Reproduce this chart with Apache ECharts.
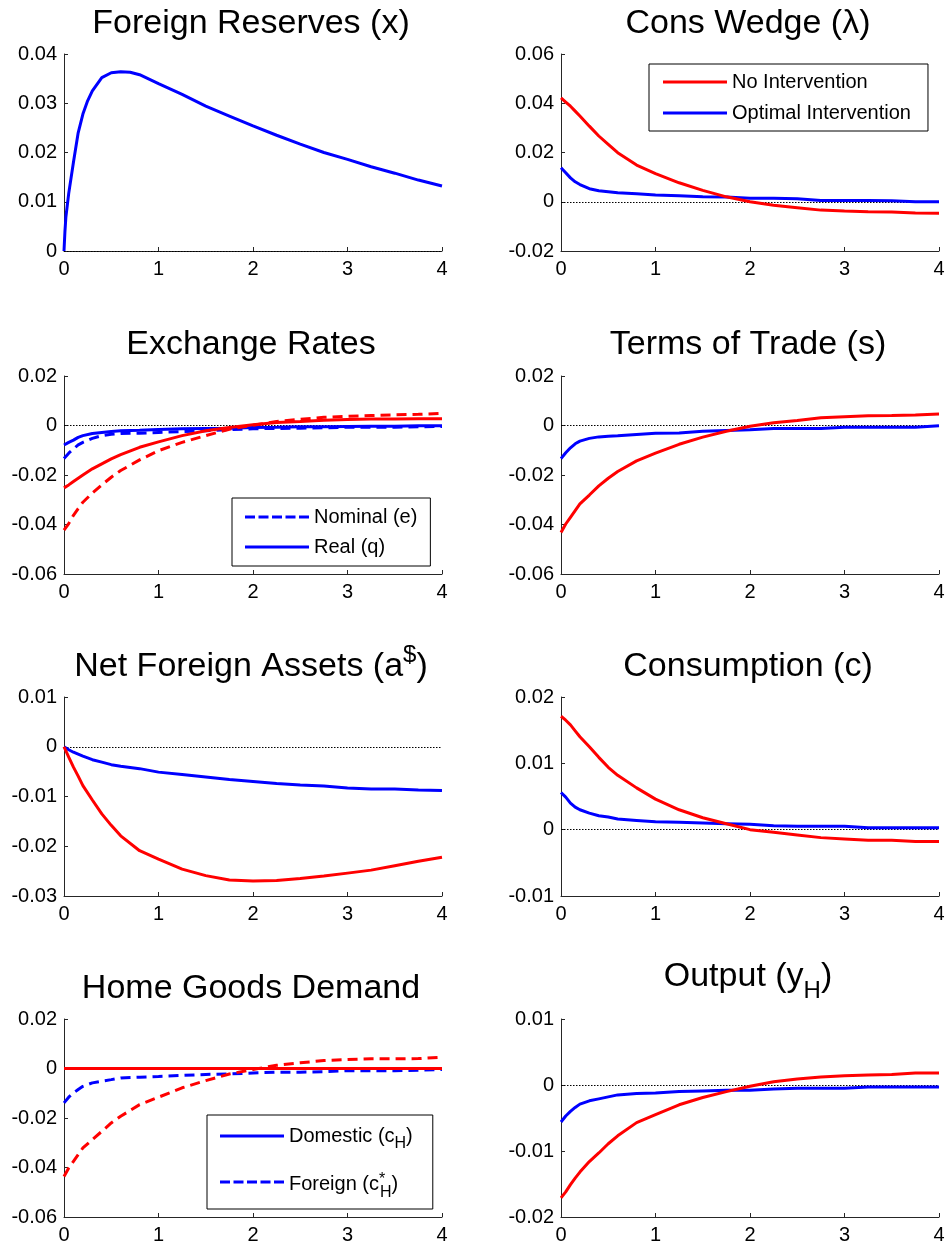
<!DOCTYPE html>
<html>
<head>
<meta charset="utf-8">
<script src="https://cdn.jsdelivr.net/npm/echarts@6.0.0/dist/echarts.min.js"></script>
<style>
html,body{margin:0;padding:0;background:#fff;}
#chart{width:950px;height:1248px;}
</style>
</head>
<body>
<div id="chart"></div>
<script>
// ---------------- DATA ----------------
const timesFR = [0, 0.01, 0.02, 0.05, 0.1, 0.15, 0.2, 0.25, 0.3, 0.4, 0.5, 0.6, 0.7, 0.8, 1.0, 1.25, 1.5, 1.75, 2.0, 2.25, 2.5, 2.75, 3.0, 3.25, 3.5, 3.75, 4.0];
const reserves = [0, 0.004, 0.0069, 0.0117, 0.018, 0.024, 0.0278, 0.0305, 0.0325, 0.0352, 0.0362, 0.0364, 0.0363, 0.0358, 0.034, 0.0318, 0.0294, 0.0274, 0.0254, 0.0235, 0.0217, 0.02, 0.0186, 0.0171, 0.0158, 0.0144, 0.0132];

const times = [0, 0.05, 0.1, 0.15, 0.2, 0.3, 0.4, 0.5, 0.6, 0.8, 1.0, 1.25, 1.5, 1.75, 2.0, 2.25, 2.5, 2.75, 3.0, 3.25, 3.5, 3.75, 4.0];

const consWedgeNo  = [0.0422, 0.0405, 0.0388, 0.0368, 0.0348, 0.0307, 0.0267, 0.0233, 0.0199, 0.0149, 0.0114, 0.0077, 0.0046, 0.002, 0.0, -0.0014, -0.0024, -0.0034, -0.0038, -0.0041, -0.0042, -0.0046, -0.0047];
const consWedgeOpt = [0.0138, 0.0118, 0.0097, 0.0081, 0.007, 0.0053, 0.0045, 0.0041, 0.0037, 0.0032, 0.0027, 0.0024, 0.002, 0.0019, 0.0014, 0.0014, 0.0012, 0.0005, 0.0005, 0.0005, 0.0004, 0.0, 0.0];

const exNomNo   = [-0.0423, -0.0396, -0.0363, -0.0336, -0.031, -0.0273, -0.024, -0.0209, -0.0182, -0.0139, -0.0102, -0.0068, -0.0041, -0.0015, 0.0001, 0.0016, 0.0025, 0.0033, 0.0037, 0.004, 0.0043, 0.0045, 0.0049];
const exRealNo  = [-0.0252, -0.024, -0.0226, -0.0213, -0.02, -0.0175, -0.0155, -0.0135, -0.0118, -0.0088, -0.0066, -0.0041, -0.0021, -0.0008, 0.0003, 0.0012, 0.0016, 0.0021, 0.0024, 0.0026, 0.0026, 0.0027, 0.0027];
const exNomOpt  = [-0.0133, -0.0112, -0.0095, -0.0078, -0.0068, -0.0052, -0.0041, -0.0035, -0.0032, -0.0031, -0.0028, -0.0025, -0.0021, -0.0017, -0.0013, -0.0012, -0.0011, -0.0009, -0.0007, -0.0007, -0.0007, -0.0005, -0.0004];
const exRealOpt = [-0.0079, -0.0068, -0.0059, -0.0048, -0.0041, -0.0032, -0.0028, -0.0024, -0.0021, -0.0019, -0.0016, -0.0013, -0.0012, -0.0011, -0.0008, -0.0007, -0.0005, -0.0005, -0.0004, -0.0003, -0.0003, -0.0001, -0.0001];

const totNo  = [-0.0432, -0.0398, -0.0371, -0.0344, -0.0317, -0.0281, -0.0244, -0.0213, -0.0186, -0.0143, -0.0112, -0.0076, -0.0047, -0.0023, -0.0003, 0.0011, 0.002, 0.0031, 0.0035, 0.0039, 0.004, 0.0042, 0.0046];
const totOpt = [-0.0134, -0.011, -0.009, -0.0074, -0.0063, -0.0052, -0.0046, -0.0043, -0.0041, -0.0036, -0.0031, -0.003, -0.0023, -0.002, -0.0017, -0.0012, -0.0012, -0.0012, -0.0007, -0.0007, -0.0007, -0.0007, -0.0001];

const nfaNo  = [0, -0.0021, -0.0041, -0.0059, -0.0078, -0.0107, -0.0135, -0.0158, -0.0179, -0.0209, -0.0226, -0.0246, -0.0259, -0.0268, -0.027, -0.0269, -0.0265, -0.026, -0.0254, -0.0248, -0.0239, -0.023, -0.0222];
const nfaOpt = [0, -0.0006, -0.0011, -0.0015, -0.0019, -0.0026, -0.0031, -0.0036, -0.0039, -0.0044, -0.0051, -0.0056, -0.0061, -0.0066, -0.007, -0.0074, -0.0077, -0.0079, -0.0083, -0.0085, -0.0085, -0.0087, -0.0088];

const consNo  = [0.0171, 0.0165, 0.0158, 0.0149, 0.014, 0.0125, 0.0109, 0.0094, 0.0082, 0.0063, 0.0046, 0.003, 0.0018, 0.0009, 0, -0.0004, -0.0008, -0.0012, -0.0014, -0.0016, -0.0016, -0.0018, -0.0018];
const consOpt = [0.0056, 0.0049, 0.004, 0.0034, 0.003, 0.0025, 0.0021, 0.0019, 0.0016, 0.0014, 0.0012, 0.0011, 0.001, 0.0009, 0.0008, 0.0006, 0.0005, 0.0005, 0.0005, 0.0003, 0.0003, 0.0003, 0.0003];

const domNo  = [0, 0, 0, 0, 0, 0, 0, 0, 0, 0, 0, 0, 0, 0, 0, 0, 0, 0, 0, 0, 0, 0, 0];
const domOpt = [0, 0, 0, 0, 0, 0, 0, 0, 0, 0, 0, 0, 0, 0, 0, 0, 0, 0, 0, 0, 0, 0, 0];
const forNo  = [-0.0436, -0.0402, -0.0375, -0.0348, -0.0321, -0.0287, -0.0254, -0.022, -0.0193, -0.0146, -0.0116, -0.0078, -0.0049, -0.0022, -0.0004, 0.0013, 0.0023, 0.0032, 0.0036, 0.0039, 0.0039, 0.004, 0.0046];
const forOpt = [-0.0139, -0.0116, -0.0099, -0.0085, -0.0072, -0.0058, -0.0051, -0.0045, -0.0038, -0.0035, -0.0032, -0.0028, -0.0024, -0.0022, -0.0018, -0.0015, -0.0015, -0.0013, -0.0009, -0.0009, -0.0009, -0.0007, -0.0004];

const outNo  = [-0.0171, -0.0162, -0.0151, -0.0141, -0.0132, -0.0116, -0.0103, -0.0089, -0.0077, -0.0057, -0.0045, -0.003, -0.0019, -0.001, -0.0002, 0.0005, 0.0009, 0.0012, 0.0014, 0.0015, 0.0016, 0.0018, 0.0018];
const outOpt = [-0.0056, -0.0047, -0.004, -0.0034, -0.0029, -0.0024, -0.0021, -0.0018, -0.0015, -0.0013, -0.0012, -0.001, -0.0009, -0.0008, -0.0008, -0.0006, -0.0005, -0.0005, -0.0005, -0.0003, -0.0003, -0.0003, -0.0003];

// axis ranges (min, max, interval) per panel
const yMins = [0, -0.02, -0.06, -0.06, -0.03, -0.01, -0.06, -0.02];
const yMaxs = [0.04, 0.06, 0.02, 0.02, 0.01, 0.02, 0.02, 0.01];
const ySteps = [0.01, 0.02, 0.02, 0.02, 0.01, 0.01, 0.02, 0.01];
const xTicks = [0, 1, 2, 3, 4];

const titles = [
  '{m|Foreign Reserves (x)}',
  '{m|Cons Wedge (λ)}',
  '{m|Exchange Rates}',
  '{m|Terms of Trade (s)}',
  '{mp|Net Foreign Assets (a}{sup|$}{mp|)}',
  '{m|Consumption (c)}',
  '{m|Home Goods Demand}',
  '{m|Output (y}{sub|H}{m|)}'
];

// ---------------- BUILD ----------------
const FONT = '"Liberation Sans", Arial, Helvetica, sans-serif';
const RED = '#ff0000', BLUE = '#0000ff';
const pairs = (t, v) => t.map((x, i) => [x, v[i]]);

const panels = [
  [{name: 'Foreign Reserves', t: timesFR, v: reserves, c: BLUE, d: false}],
  [{name: 'Optimal Intervention', t: times, v: consWedgeOpt, c: BLUE, d: false},
   {name: 'No Intervention', t: times, v: consWedgeNo, c: RED, d: false}],
  [{name: 'Nominal (e)', t: times, v: exNomOpt, c: BLUE, d: true},
   {name: 'Real (q)', t: times, v: exRealOpt, c: BLUE, d: false},
   {name: 'Nominal (e) NI', t: times, v: exNomNo, c: RED, d: true},
   {name: 'Real (q) NI', t: times, v: exRealNo, c: RED, d: false}],
  [{name: 'ToT Opt', t: times, v: totOpt, c: BLUE, d: false},
   {name: 'ToT NI', t: times, v: totNo, c: RED, d: false}],
  [{name: 'NFA Opt', t: times, v: nfaOpt, c: BLUE, d: false},
   {name: 'NFA NI', t: times, v: nfaNo, c: RED, d: false}],
  [{name: 'Cons Opt', t: times, v: consOpt, c: BLUE, d: false},
   {name: 'Cons NI', t: times, v: consNo, c: RED, d: false}],
  [{name: 'Domestic', t: times, v: domOpt, c: BLUE, d: false},
   {name: 'Foreign', t: times, v: forOpt, c: BLUE, d: true},
   {name: 'Domestic NI', t: times, v: domNo, c: RED, d: false},
   {name: 'Foreign NI', t: times, v: forNo, c: RED, d: true}],
  [{name: 'Output Opt', t: times, v: outOpt, c: BLUE, d: false},
   {name: 'Output NI', t: times, v: outNo, c: RED, d: false}]
];

const LEFTS = [64, 561], W = 378;
const TOPS = [54, 376, 697, 1019], HS = [197, 198, 199, 198];
const titleTops = [6.5, 6.5, 328, 328, 643.5, 649.5, 971.5, 959.5];

const grid = [], xAxis = [], yAxis = [], series = [], title = [];
const axisCol = '#262626';
for (let i = 0; i < 8; i++) {
  const col = i % 2, row = Math.floor(i / 2);
  grid.push({left: LEFTS[col], top: TOPS[row], width: W, height: HS[row], containLabel: false});
  xAxis.push({
    type: 'value', gridIndex: i, min: xTicks[0], max: xTicks[xTicks.length - 1], interval: 1,
    axisLine: {show: true, onZero: false, lineStyle: {color: axisCol, width: 1}},
    axisTick: {show: true, inside: true, length: 4, lineStyle: {color: axisCol}},
    axisLabel: {fontSize: 20, color: '#000', margin: 8, fontFamily: FONT},
    splitLine: {show: false}
  });
  yAxis.push({
    type: 'value', gridIndex: i, min: yMins[i], max: yMaxs[i], interval: ySteps[i],
    axisLine: {show: true, onZero: false, lineStyle: {color: axisCol, width: 1}},
    axisTick: {show: true, inside: true, length: 4, lineStyle: {color: axisCol}},
    axisLabel: {fontSize: 20, color: '#000', margin: 7, fontFamily: FONT},
    splitLine: {show: false}
  });
  title.push({
    text: titles[i], left: LEFTS[col] + W / 2 - 2, top: titleTops[i], padding: 0,
    textAlign: 'center', textVerticalAlign: 'top',
    textStyle: {
      fontSize: 34, fontWeight: 'normal', color: '#000', fontFamily: FONT,
      rich: {
        m: {fontSize: 34, lineHeight: 34, verticalAlign: 'top', fontFamily: FONT, color: '#000'},
        mp: {fontSize: 34, lineHeight: 34, padding: [6, 0, 0, 0], verticalAlign: 'top', fontFamily: FONT, color: '#000'},
        sup: {fontSize: 24, lineHeight: 24, verticalAlign: 'top', fontFamily: FONT, color: '#000'},
        sub: {fontSize: 24, lineHeight: 24, padding: [20, 0, 0, 0], verticalAlign: 'top', fontFamily: FONT, color: '#000'}
      }
    }
  });
  panels[i].forEach((s, k) => {
    const ser = {
      type: 'line', name: s.name, xAxisIndex: i, yAxisIndex: i,
      data: pairs(s.t, s.v), symbol: 'none', showSymbol: false, silent: true,
      lineStyle: {color: s.c, width: 3, type: s.d ? [10, 6] : 'solid'},
      itemStyle: {color: s.c}, z: 3 + k, animation: false
    };
    if (k === 0) {
      ser.markLine = {
        silent: true, symbol: 'none', z: 1, animation: false,
        label: {show: false},
        lineStyle: {type: [1.5, 1.5], color: '#000', width: 1},
        data: [{yAxis: 0}]
      };
    }
    series.push(ser);
  });
}

const SOLID_ICON = 'path://M0,0H64V3H0Z';
const DASH_ICON = 'path://M0,0H10V3H0Z M13.5,0H23.5V3H13.5Z M27,0H37V3H27Z M40.5,0H50.5V3H40.5Z M54,0H64V3H54Z';
const legendLabels = {
  'No Intervention': 'No Intervention',
  'Optimal Intervention': 'Optimal Intervention',
  'Nominal (e)': 'Nominal (e)',
  'Real (q)': 'Real (q)',
  'Domestic': '{m|Domestic (c}{sub|H}{m|)}',
  'Foreign': '{m2|Foreign (c}{sup|*}{sub2|H}{m2|)}'
};
const legBase = {
  orient: 'vertical', itemWidth: 64, itemHeight: 14, selectedMode: false, symbolKeepAspect: true,
  borderColor: '#000', borderWidth: 1, borderRadius: 0, backgroundColor: '#fff', z: 10,
  itemStyle: {borderWidth: 0},
  formatter: name => legendLabels[name],
  textStyle: {
    fontSize: 20, color: '#000', fontFamily: FONT,
    rich: {
      m: {fontSize: 20, lineHeight: 20, verticalAlign: 'top', fontFamily: FONT, color: '#000'},
      sub: {fontSize: 16, lineHeight: 16, padding: [10, 0, 0, 0], verticalAlign: 'top', fontFamily: FONT, color: '#000'},
      m2: {fontSize: 20, lineHeight: 20, padding: [2, 0, 0, 0], verticalAlign: 'top', fontFamily: FONT, color: '#000'},
      sup: {fontSize: 16, lineHeight: 16, width: 1, verticalAlign: 'top', fontFamily: FONT, color: '#000'},
      sub2: {fontSize: 16, lineHeight: 16, padding: [13, 0, 0, 0], verticalAlign: 'top', fontFamily: FONT, color: '#000'}
    }
  }
};
const legend = [
  Object.assign({}, legBase, {data: [{name: 'No Intervention', icon: SOLID_ICON}, {name: 'Optimal Intervention', icon: SOLID_ICON}], left: 649, top: 64, itemGap: 11, padding: [8, 17, 8, 14]}),
  Object.assign({}, legBase, {data: [{name: 'Nominal (e)', icon: DASH_ICON}, {name: 'Real (q)', icon: SOLID_ICON}], left: 232, top: 498, itemGap: 10, padding: [9, 13, 9, 13]}),
  Object.assign({}, legBase, {data: [{name: 'Domestic', icon: SOLID_ICON}, {name: 'Foreign', icon: DASH_ICON}], left: 207, top: 1115, itemGap: 20, padding: [11, 20, 8, 13]})
];

const chart = echarts.init(document.getElementById('chart'), null, {renderer: 'canvas'});
chart.setOption({
  backgroundColor: '#fff',
  animation: false,
  title, grid, xAxis, yAxis, series, legend
});
</script>
</body>
</html>
